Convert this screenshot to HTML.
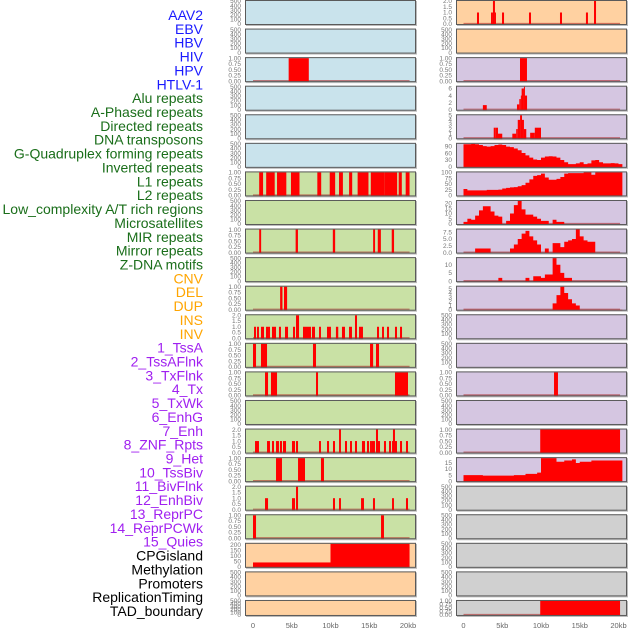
<!DOCTYPE html>
<html><head><meta charset="utf-8">
<style>
html,body{margin:0;padding:0;background:#fff;width:630px;height:630px;overflow:hidden}
svg{display:block}
</style></head>
<body>
<svg id="chart" width="630" height="630" xmlns="http://www.w3.org/2000/svg"></svg>
<script>
// ---- labels ----
const labelTexts = ["AAV2","EBV","HBV","HIV","HPV","HTLV-1","Alu repeats","A-Phased repeats","Directed repeats","DNA transposons","G-Quadruplex forming repeats","Inverted repeats","L1 repeats","L2 repeats","Low_complexity A/T rich regions","Microsatellites","MIR repeats","Mirror repeats","Z-DNA motifs","CNV","DEL","DUP","INS","INV","1_TssA","2_TssAFlnk","3_TxFlnk","4_Tx","5_TxWk","6_EnhG","7_Enh","8_ZNF_Rpts","9_Het","10_TssBiv","11_BivFlnk","12_EnhBiv","13_ReprPC","14_ReprPCWk","15_Quies","CPGisland","Methylation","Promoters","ReplicationTiming","TAD_boundary"];
const labelGroups = [0,0,0,0,0,0,1,1,1,1,1,1,1,1,1,1,1,1,1,2,2,2,2,2,3,3,3,3,3,3,3,3,3,3,3,3,3,3,3,4,4,4,4,4];
const groupColors = ["#1a1aff","#1a6e1a","#ffa500","#a020f0","#000000"];

// ---- x axis ----
const xTickValues = [0,5,10,15,20];
const xTickLabels = ["0","5kb","10kb","15kb","20kb"];

// ---- bar (interval) data: [startKb, endKb, value] ----
const hivLeft = [[4.6,7.2,1]];
const l1Left = [[0.8,1.3,1],[1.7,2.8,1],[3.1,4.3,1],[4.9,6.0,1],[8.3,8.8,1],[9.9,10.6,1],[11.1,11.6,1],[12.4,12.8,1],[13.5,14.9,1],[15.2,17.0,1],[17.0,18.6,1],[18.8,19.2,1],[19.7,20.2,1]];
const row8Left = [[0.8,1.05,1],[5.5,5.8,1],[10.3,10.6,1],[15.5,15.75,1],[16.1,16.5,1],[17.9,18.2,1]];
const row10Left = [[3.5,3.8,1],[4.0,4.4,1]];
const row11Left = [[0.13,0.39,1],[0.52,0.77,1],[1.03,1.42,1],[1.68,1.94,1],[1.94,2.19,1],[2.45,2.97,1],[3.35,3.61,1],[4.13,4.52,1],[5.16,5.42,1],[5.55,5.94,2],[6.45,7.48,1],[7.61,8.0,1],[8.52,8.77,1],[9.55,10.06,1],[10.7,11.0,1],[11.48,11.87,1],[12.39,12.77,1],[13.16,13.42,2],[13.68,14.19,1],[16.0,16.26,1],[16.65,16.9,1],[17.29,17.55,1],[18.32,18.58,1],[18.97,19.23,1]];
const row12Left = [[0,0.39,1],[1.03,1.81,1],[7.74,8.13,1],[15.1,15.5,1],[15.87,16.26,1]];
const row13Left = [[1.55,1.94,1],[2.32,3.1,1],[8.13,8.39,1],[18.32,20.0,1]];
const row15Left = [[0.26,0.77,1],[1.81,2.19,1],[2.45,2.71,1],[2.97,3.35,1],[3.48,3.74,1],[3.87,4.26,1],[5.03,5.42,1],[5.55,5.81,1],[8.52,8.77,1],[9.55,9.81,1],[10.32,10.58,1],[11.1,11.35,2],[11.87,12.13,1],[12.52,12.77,1],[13.16,13.42,1],[14.06,14.45,1],[14.71,14.97,1],[15.1,15.35,1],[15.35,15.74,1],[15.87,16.13,2],[16.13,16.39,1],[16.9,17.16,1],[17.55,17.81,1],[17.94,18.19,1],[18.06,18.32,2],[18.32,18.58,1],[18.97,19.23,1],[19.74,20.0,1]];
const row16Left = [[2.97,3.74,1],[5.81,6.71,1],[8.77,9.16,1]];
const row17Left = [[1.55,1.94,1],[5.03,5.42,1],[5.55,5.81,2],[10.32,10.58,1],[11.1,11.35,1],[13.94,14.32,1],[15.48,15.74,1],[17.94,18.19,1],[19.74,20.0,1]];
const row18Left = [[0,0.39,1],[16.52,16.9,1]];
const cpgLeft = [[0,10,40],[10,20.2,210]];
const aav2Right = [[1.74,2.0,1],[3.55,3.8,1],[3.8,4.06,2.2],[4.06,4.19,1],[4.97,5.23,1],[8.45,8.71,1],[12.45,12.71,1],[15.8,16.06,1],[16.84,17.1,2.2]];
const hivRight = [[7.29,8.19,1]];
const row3Right = [[2.5,3.0,1.3],[6.9,7.2,1.5],[7.2,7.4,3],[7.4,7.5,4],[7.5,7.8,6],[7.8,7.9,6.5],[7.9,8.2,4]];
const row4Right = [[3.9,4.1,2.3],[4.1,4.45,2.3],[4.45,5.0,1],[6.3,6.8,1],[6.8,7.0,2],[7.0,7.3,4],[7.3,7.55,5],[7.55,7.8,4],[7.8,8.1,2],[8.6,9.2,1.2],[9.2,10.0,2.3]];
const row13Right = [[11.68,12.19,1]];
const row15Right = [[9.9,20.2,1]];
const tadRight = [[9.9,20.2,1]];

// ---- histogram data: values per 0.5kb bin starting at 0 ----
const row5Right = [98,98,100,98,95,90,88,90,95,97,95,88,86,80,72,60,50,40,32,30,40,45,46,45,40,30,20,12,12,15,20,12,15,28,30,20,15,15,16,15,12];
const row6Right = [28,22,22,22,22,22,24,24,24,25,30,33,35,36,40,45,55,70,85,88,95,78,68,68,72,80,95,97,97,97,97,100,100,90,100,100,100,100,100,100,100];
const row7Right = [2,5,4,8,13,17,17,12,8,7,0,3,10,18,23,14,9,9,7,5,3,3,0,4,2,2,0,0,0,0,0,0,0,0,0,0,0,0,0,0,0];
const row8Right = [0,0,0,1.5,1.5,1.5,1.5,0,0,0,0,0,1.5,3,5,7,8,6,4.5,3,0,1.5,0,3.5,3.5,2,4,4.5,5,8.5,6,4.5,4,4,0,0,0,0,0,0,0];
const row9Right = [0,0,0,0,0,0,0,0,0,2,0,0,0,0,0,0,2,0,3,3,2,4,4,14,10,5,2,2,0,0,0,0,0,0,0,0,0,0,0,0,0];
const row10Right = [0,0,0,0,0,0,0,0,0,0,0,0,0,0,0,0,0,0,0,0,0,0,0,1.5,3.5,5.5,4,2.5,1.5,1,0,0,0,0,0,0,0,0,0,0,0];
const row16Right = [5,5,5,5,5,4.5,4.5,4.5,4.5,4.5,4.5,4.5,4.5,5,5,5,6,6,6,7,19,19,19,19,16,16,17,17,18,15,16,16,16,17,17,17,17,17,17,17,17];

// ---- tick sets ----
const ticksEmpty = ["0","100","200","300","400","500"];
const ticks1 = ["0.00","0.25","0.50","0.75","1.00"];
const ticks2 = ["0.0","0.5","1.0","1.5","2.0"];

const C = {blue:"#c9e3ec", green:"#c9e1a5", peach:"#ffd1a1", lav:"#d5c6e1", gray:"#d0d0d0"};
// rows: [leftBg, leftKind, leftData, leftMax, leftTicks, rightBg, rightKind, rightData, rightMax, rightTicks]
const rows = [
 [C.blue,"e",null,500,ticksEmpty, C.peach,"b",aav2Right,2,ticks2],
 [C.blue,"e",null,500,ticksEmpty, C.peach,"e",null,500,ticksEmpty],
 [C.blue,"b",hivLeft,1,ticks1, C.lav,"b",hivRight,1,ticks1],
 [C.blue,"e",null,500,ticksEmpty, C.lav,"b",row3Right,6.5,["0","2","4","6"]],
 [C.blue,"e",null,500,ticksEmpty, C.lav,"b",row4Right,5,["0","1","2","3","4","5"]],
 [C.blue,"e",null,500,ticksEmpty, C.lav,"h",row5Right,100,["0","30","60","90"]],
 [C.green,"b",l1Left,1,ticks1, C.lav,"h",row6Right,100,["0","25","50","75","100"]],
 [C.green,"e",null,500,ticksEmpty, C.lav,"h",row7Right,22,["0","5","10","15","20"]],
 [C.green,"b",row8Left,1,ticks1, C.lav,"h",row8Right,8.5,["0.0","2.5","5.0","7.5"]],
 [C.green,"e",null,500,ticksEmpty, C.lav,"h",row9Right,14,["0","5","10"]],
 [C.green,"b",row10Left,1,ticks1, C.lav,"h",row10Right,5.5,["0","1","2","3","4","5"]],
 [C.green,"b",row11Left,2,ticks2, C.lav,"e",null,500,ticksEmpty],
 [C.green,"b",row12Left,1,ticks1, C.lav,"e",null,500,ticksEmpty],
 [C.green,"b",row13Left,1,ticks1, C.lav,"b",row13Right,1,ticks1],
 [C.green,"e",null,500,ticksEmpty, C.lav,"e",null,500,ticksEmpty],
 [C.green,"b",row15Left,2,ticks2, C.lav,"b",row15Right,1,ticks1],
 [C.green,"b",row16Left,1,ticks1, C.lav,"h",row16Right,19,["0","5","10","15"]],
 [C.green,"b",row17Left,2,ticks2, C.gray,"e",null,500,ticksEmpty],
 [C.green,"b",row18Left,1,ticks1, C.gray,"e",null,500,ticksEmpty],
 [C.peach,"b",cpgLeft,210,["0","50","100","150","200"], C.gray,"e",null,500,ticksEmpty],
 [C.peach,"e",null,500,ticksEmpty, C.gray,"e",null,500,ticksEmpty],
 [C.peach,"e",null,500,ticksEmpty, C.gray,"b",tadRight,1,ticks1]
];

const NS = "http://www.w3.org/2000/svg";
const svg = document.getElementById("chart");
function mk(tag, attrs, parent){const e=document.createElementNS(NS,tag);for(const k in attrs)e.setAttribute(k,attrs[k]);(parent||svg).appendChild(e);return e;}
const KB = 7.75;
const PX = [245, 456];
const X0 = [253, 463.5];
const PW = 171;
function xScale(side, kb){return X0[side] + kb*KB;}

// labels
labelTexts.forEach((t,i)=>{
  const el = mk("text",{x:203,y:15+i*13.86+5,"text-anchor":"end","font-size":"14","font-family":"Liberation Sans, sans-serif",fill:groupColors[labelGroups[i]]});
  el.textContent = t;
  
  
});

rows.forEach((r,i)=>{
  const top = i*28.57;
  const h = (i===rows.length-1) ? 16 : 25;
  for(let side=0; side<2; side++){
    const bg=r[side*5], kind=r[side*5+1], data=r[side*5+2], max=r[side*5+3], ticks=r[side*5+4];
    const g = mk("g",{});
    
    
    const cid = "clip"+i+"_"+side;
    const cp = mk("clipPath",{id:cid},g);
    mk("rect",{x:PX[side],y:top,width:PW,height:h},cp);
    mk("rect",{x:PX[side]+1,y:top+1,width:PW,height:h,fill:"#bbb"},g);
    const bgr = mk("rect",{x:PX[side],y:top,width:PW,height:h,fill:bg},g);
    
    
    const y0 = top+h-1, y1 = top+1;
    const yScale = v => y0 - (v/max)*(y0-y1);
    const marks = mk("g",{"clip-path":"url(#"+cid+")"},g);
    if(kind!=="e"){
      mk("line",{x1:xScale(side,0),x2:xScale(side,20.2),y1:y0-0.5,y2:y0-0.5,stroke:"rgba(170,30,30,0.55)","stroke-width":1.2},marks);
    }
    if(kind==="b"){
      data.forEach(d=>{
        const yt = yScale(d[2]);
        const b = mk("rect",{x:xScale(side,d[0]),y:yt,width:Math.max(1,xScale(side,d[1])-xScale(side,d[0])),height:y0-yt+1,fill:"#ff0000"},marks);
        
        
      });
    } else if(kind==="h"){
      let dstr = "M"+xScale(side,0)+","+(y0+1);
      data.forEach((v,k)=>{
        const yt = yScale(v);
        dstr += "L"+xScale(side,k*0.5)+","+yt+"L"+xScale(side,k*0.5+0.5)+","+yt;
      });
      dstr += "L"+xScale(side,data.length*0.5)+","+(y0+1)+"Z";
      const p = mk("path",{d:dstr,fill:"#ff0000"},marks);
      
      
    }
    mk("rect",{x:PX[side]+0.5,y:top+0.5,width:PW-1,height:h-1,fill:"none",stroke:"#5a5a5a","stroke-width":1},g);
    // ticks
    ticks.forEach((t,k)=>{
      const v = kind==="e" ? k*100 : parseFloat(t);
      const tt = mk("text",{x:PX[side]-4,y:yScale(v)+2.2,"text-anchor":"end","font-size":"6.5","font-family":"Liberation Sans, sans-serif",fill:"#777"},g);
      tt.textContent = t;
      
      
    });
  }
});

// x axis labels
for(let side=0; side<2; side++){
  xTickValues.forEach((v,k)=>{
    const t = mk("text",{x:xScale(side,v),y:628,"text-anchor":"middle","font-size":"7.5","font-family":"Liberation Sans, sans-serif",fill:"#666"});
    t.textContent = xTickLabels[k];
    
    
  });
}
</script>
</body></html>
